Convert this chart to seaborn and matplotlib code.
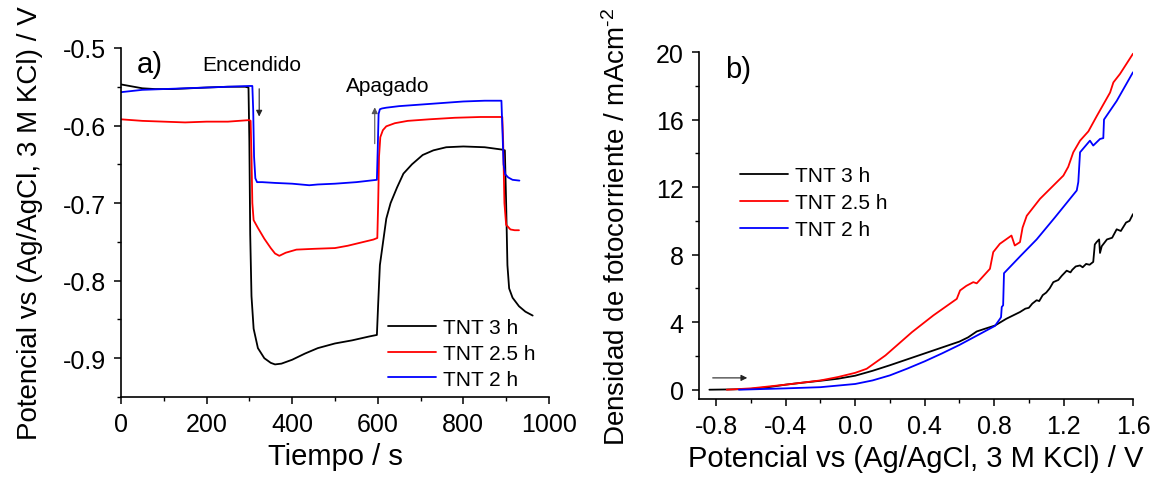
import matplotlib
matplotlib.use('Agg')
import matplotlib.pyplot as plt
from matplotlib.ticker import MultipleLocator, FormatStrFormatter
import seaborn as sns
import pandas as pd

# ---- a) potencial vs tiempo ----
t_3h = [0, 20, 50, 80, 120, 160, 200, 250, 290, 298, 300, 302, 305, 310, 320, 335, 350, 360,
        375, 400, 430, 460, 500, 540, 580, 598, 601, 605, 610, 620, 630, 645, 660, 680, 705,
        730, 760, 800, 850, 890, 897, 900, 903, 907, 915, 930, 945, 962]
v_3h = [-0.547, -0.549, -0.552, -0.553, -0.553, -0.552, -0.551, -0.550, -0.550, -0.551, -0.62,
        -0.74, -0.82, -0.862, -0.887, -0.900, -0.906, -0.908, -0.907, -0.902, -0.894, -0.887,
        -0.881, -0.877, -0.872, -0.870, -0.83, -0.78, -0.76, -0.72, -0.70, -0.68, -0.662,
        -0.650, -0.638, -0.632, -0.628, -0.627, -0.628, -0.631, -0.632, -0.70, -0.78, -0.810,
        -0.822, -0.833, -0.840, -0.845]

t_25h = [0, 50, 100, 150, 200, 250, 300, 303, 305, 307, 310, 320, 335, 350, 360, 370, 385, 410,
         450, 500, 530, 560, 590, 599, 601, 603, 606, 612, 620, 640, 670, 720, 780, 840, 891,
         893, 896, 900, 910, 920, 930]
v_25h = [-0.592, -0.594, -0.595, -0.596, -0.595, -0.595, -0.593, -0.594, -0.64, -0.70, -0.722,
         -0.732, -0.746, -0.758, -0.765, -0.768, -0.764, -0.760, -0.759, -0.758, -0.755, -0.751,
         -0.747, -0.745, -0.70, -0.64, -0.615, -0.606, -0.601, -0.597, -0.594, -0.592, -0.590,
         -0.589, -0.589, -0.62, -0.70, -0.728, -0.734, -0.735, -0.735]

t_2h = [0, 50, 100, 150, 200, 250, 300, 307, 309, 311, 314, 318, 330, 360, 400, 440, 460, 500,
        550, 598, 600, 602, 605, 610, 620, 650, 700, 750, 800, 850, 889, 891, 894, 898, 905,
        915, 931]
v_2h = [-0.557, -0.554, -0.553, -0.552, -0.551, -0.550, -0.549, -0.549, -0.58, -0.64, -0.668,
        -0.673, -0.673, -0.674, -0.675, -0.677, -0.676, -0.675, -0.673, -0.670, -0.630, -0.585,
        -0.579, -0.578, -0.577, -0.575, -0.573, -0.571, -0.569, -0.568, -0.568, -0.60, -0.650,
        -0.663, -0.667, -0.670, -0.671]

# ---- b) densidad de fotocorriente vs potencial ----
e_3h = [-0.84, -0.7, -0.6, -0.5, -0.4, -0.3, -0.2, -0.1, 0.0, 0.1, 0.2, 0.3, 0.4, 0.5, 0.6,
        0.65, 0.7, 0.75, 0.805, 0.87, 0.949, 0.98, 1.0, 1.02, 1.045, 1.06, 1.08, 1.1, 1.12,
        1.141, 1.17, 1.19, 1.218, 1.24, 1.25, 1.27, 1.295, 1.31, 1.33, 1.35, 1.371, 1.38, 1.391,
        1.405, 1.41, 1.42, 1.45, 1.48, 1.506, 1.53, 1.56, 1.58, 1.6]
j_3h = [0.0, 0.02, 0.05, 0.15, 0.3, 0.42, 0.53, 0.65, 0.83, 1.12, 1.45, 1.8, 2.15, 2.5, 2.85,
        3.1, 3.45, 3.62, 3.8, 4.2, 4.6, 4.8, 4.85, 5.1, 5.3, 5.25, 5.6, 5.75, 6.0, 6.37, 6.5,
        6.75, 7.05, 6.95, 7.1, 7.3, 7.36, 7.25, 7.45, 7.4, 7.57, 8.6, 8.75, 8.9, 8.1, 8.5, 8.9,
        9.0, 9.5, 9.4, 9.9, 10.0, 10.4]

e_25h = [-0.74, -0.6, -0.4, -0.2, -0.1, 0.0, 0.066, 0.174, 0.327, 0.45, 0.585, 0.604, 0.64,
         0.68, 0.70, 0.776, 0.795, 0.833, 0.9, 0.919, 0.949, 0.964, 0.988, 1.064, 1.199, 1.227,
         1.256, 1.295, 1.343, 1.391, 1.468, 1.487, 1.525, 1.6]
j_25h = [0.0, 0.08, 0.3, 0.55, 0.75, 1.0, 1.24, 2.03, 3.41, 4.4, 5.38, 5.88, 6.15, 6.37, 6.3,
         7.16, 8.15, 8.64, 9.13, 8.54, 8.74, 9.6, 10.3, 11.3, 12.68, 13.2, 14.06, 14.75, 15.3,
         16.2, 17.6, 18.2, 18.7, 19.9]

e_2h = [-0.67, -0.5, -0.4, -0.2, 0.0, 0.1, 0.2, 0.3, 0.4, 0.5, 0.6, 0.7, 0.805, 0.834,
        0.840, 0.844, 0.852, 0.857, 0.95, 1.045, 1.15, 1.276, 1.285, 1.295, 1.352, 1.371, 1.41,
        1.429, 1.433, 1.506, 1.6]
j_2h = [0.0, 0.05, 0.08, 0.15, 0.34, 0.55, 0.85, 1.25, 1.68, 2.15, 2.65, 3.2, 3.78, 4.2, 4.3,
        4.9, 5.0, 6.9, 7.9, 8.9, 10.2, 11.8, 12.3, 14.06, 14.75, 14.46, 14.85, 14.9, 16.0, 17.1,
        18.8]

labels = ['TNT 3 h', 'TNT 2.5 h', 'TNT 2 h']
colors = ['#000000', '#ff0000', '#0000ff']

sns.set_style('ticks')
plt.rcParams['font.family'] = ['Liberation Sans', 'DejaVu Sans']
plt.rcParams['mathtext.fontset'] = 'custom'
plt.rcParams['mathtext.rm'] = 'Liberation Sans'
plt.rcParams['mathtext.default'] = 'regular'
plt.rcParams['axes.unicode_minus'] = False
for k in ('text.color', 'axes.labelcolor', 'xtick.color', 'ytick.color', 'axes.edgecolor'):
    plt.rcParams[k] = 'black'

df_a = pd.concat([
    pd.DataFrame({'t': t_3h, 'v': v_3h, 'serie': labels[0]}),
    pd.DataFrame({'t': t_25h, 'v': v_25h, 'serie': labels[1]}),
    pd.DataFrame({'t': t_2h, 'v': v_2h, 'serie': labels[2]}),
])
df_b = pd.concat([
    pd.DataFrame({'e': e_3h, 'j': j_3h, 'serie': labels[0]}),
    pd.DataFrame({'e': e_25h, 'j': j_25h, 'serie': labels[1]}),
    pd.DataFrame({'e': e_2h, 'j': j_2h, 'serie': labels[2]}),
])

fig = plt.figure(figsize=(11.63, 4.81), dpi=100)
ax1 = fig.add_axes([0.104, 0.1726, 0.368, 0.7256])
ax2 = fig.add_axes([0.601, 0.1684, 0.3732, 0.7214])

pal = dict(zip(labels, colors))
sns.lineplot(data=df_a, x='t', y='v', hue='serie', palette=pal, hue_order=labels,
             sort=False, estimator=None, lw=1.3, ax=ax1)
sns.lineplot(data=df_b, x='e', y='j', hue='serie', palette=pal, hue_order=labels,
             sort=False, estimator=None, lw=1.3, ax=ax2)

for ax in (ax1, ax2):
    sns.despine(ax=ax)
    for s in ('left', 'bottom'):
        ax.spines[s].set_linewidth(1.2)
    ax.tick_params(which='major', direction='out', length=5, width=1.1, labelsize=18, pad=6)
    ax.tick_params(which='minor', direction='out', length=3, width=1.0)

ax1.set_xlim(0, 1000)
ax1.set_ylim(-0.95, -0.5)
ax1.xaxis.set_major_locator(MultipleLocator(200))
ax1.xaxis.set_minor_locator(MultipleLocator(100))
ax1.yaxis.set_major_locator(MultipleLocator(0.1))
ax1.yaxis.set_minor_locator(MultipleLocator(0.05))
ax1.set_xlabel('Tiempo / s', fontsize=21)
ax1.set_ylabel('Potencial vs (Ag/AgCl, 3 M KCl) / V', fontsize=20, labelpad=14)

ax2.set_xlim(-0.9, 1.6)
ax2.set_ylim(-0.55, 20)
ax2.xaxis.set_major_locator(MultipleLocator(0.4))
ax2.xaxis.set_minor_locator(MultipleLocator(0.2))
ax2.yaxis.set_major_locator(MultipleLocator(4))
ax2.yaxis.set_minor_locator(MultipleLocator(2))
ax2.xaxis.set_major_formatter(FormatStrFormatter('%.1f'))
ax2.set_xlabel('Potencial vs (Ag/AgCl, 3 M KCl) / V', fontsize=21)
ax2.set_ylabel(r'Densidad de fotocorriente / mAcm$^{\text{-2}}$', fontsize=20, labelpad=18)

# annotations
ax1.text(68, -0.521, 'a)', fontsize=21, ha='center', va='center')
ax1.text(306, -0.521, 'Encendido', fontsize=15, ha='center', va='center')
ax1.annotate('', xy=(323, -0.592), xytext=(323, -0.549),
             arrowprops=dict(arrowstyle='-|>', color='#222222', lw=0.8, mutation_scale=9))
ax1.text(624, -0.549, 'Apagado', fontsize=15, ha='center', va='center')
ax1.annotate('', xy=(593, -0.573), xytext=(593, -0.627),
             arrowprops=dict(arrowstyle='-|>', color='#555555', lw=0.8, mutation_scale=9))

ax2.text(-0.675, 19.0, 'b)', fontsize=21, ha='center', va='center')
ax2.annotate('', xy=(-0.606, 0.7), xytext=(-0.837, 0.7),
             arrowprops=dict(arrowstyle='-|>', color='#222222', lw=0.8, mutation_scale=9))

ax1.legend(loc='upper left', bbox_to_anchor=(0.624, 0.225), frameon=False, fontsize=15,
           handlelength=2.3, handletextpad=0.35, labelspacing=0.32, borderpad=0,
           borderaxespad=0)
ax2.legend(loc='upper left', bbox_to_anchor=(0.0945, 0.672), frameon=False, fontsize=15,
           handlelength=2.3, handletextpad=0.35, labelspacing=0.4, borderpad=0,
           borderaxespad=0)

fig.savefig('out.png', dpi=100)
